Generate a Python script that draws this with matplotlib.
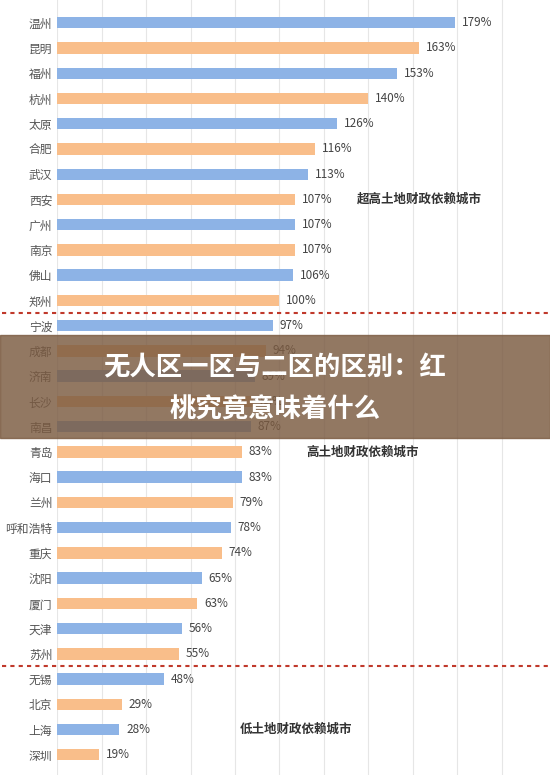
import matplotlib
matplotlib.use("Agg")
import matplotlib.pyplot as plt
from matplotlib.patches import Rectangle

plt.rcParams['font.family'] = ['Noto Sans CJK SC', 'DejaVu Sans']

cities = ["温州","昆明","福州","杭州","太原","合肥","武汉","西安","广州","南京","佛山","郑州",
          "宁波","成都","济南","长沙","南昌","青岛","海口","兰州","呼和浩特","重庆","沈阳","厦门","天津","苏州",
          "无锡","北京","上海","深圳"]
values = [179,163,153,140,126,116,113,107,107,107,106,100,
          97,94,89,88,87,83,83,79,78,74,65,63,56,55,
          48,29,28,19]
groups = ["超高土地财政依赖城市","高土地财政依赖城市","低土地财政依赖城市"]

blue = "#8DB3E6"; orange = "#F9BE8A"
fig = plt.figure(figsize=(5.5,7.75), dpi=100)
ax = fig.add_axes([0.104, 0.0, 0.896, 1.0])
n = len(cities)
ys = list(range(n))
cols = [blue if i % 2 == 0 else orange for i in range(n)]
ax.barh(ys, values, height=0.45, color=cols, zorder=2)
for y, v in zip(ys, values):
    ax.text(v + 3, y, f"{v}%", va="center", fontsize=8.5, color="#444444")
ax.set_yticks(ys)
ax.set_yticklabels(cities, fontsize=8.5, color="#555555")
ax.set_ylim(n - 0.2, -0.9)
ax.set_xlim(0, 197 * 1.0 * (493/438))
ax.set_xticks(range(0, 220, 20))
ax.xaxis.grid(True, color="#E6E6E6", lw=0.8, zorder=0)
ax.tick_params(axis="x", bottom=False, labelbottom=False)
ax.tick_params(axis="y", length=0)
for s in ax.spines.values():
    s.set_visible(False)
for yb in [11.5, 25.5]:
    ax.plot([-25, 230], [yb, yb], ls=(0, (2, 2)), color="#C0392B", lw=1.5, clip_on=False)
ax.text(135, 7, groups[0], fontsize=9, fontweight="bold", color="#333333", va="center")
ax.text(112, 17, groups[1], fontsize=9, fontweight="bold", color="#333333", va="center")
ax.text(82, 28, groups[2], fontsize=9, fontweight="bold", color="#333333", va="center")

fig.patches.append(Rectangle((0, 1-438/775), 1, 103/775, transform=fig.transFigure,
                             color="#7A5A40", alpha=0.82, zorder=5))
fig.text(0.5, 1-368/775, "无人区一区与二区的区别：红", ha="center", va="center", fontsize=19,
         fontweight="bold", color="white", zorder=6)
fig.text(0.5, 1-410/775, "桃究竟意味着什么", ha="center", va="center", fontsize=19,
         fontweight="bold", color="white", zorder=6)
fig.savefig("out.png", dpi=100)
